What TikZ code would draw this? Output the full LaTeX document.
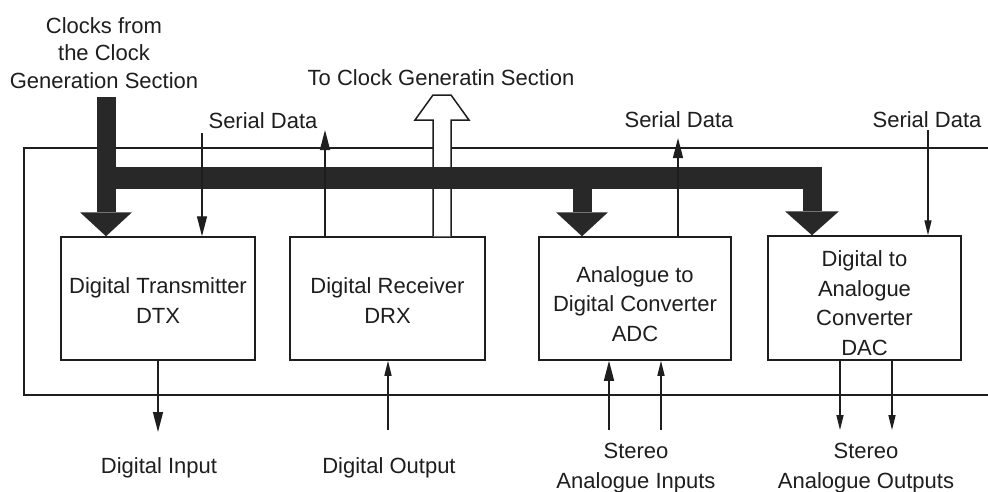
\documentclass[tikz,border=0pt]{standalone}
\usepackage{fontspec}
\setmainfont{Liberation Sans}
\usetikzlibrary{arrows.meta,calc}
\definecolor{ink}{RGB}{30,30,30}
\definecolor{busgray}{RGB}{40,40,40}

\begin{document}
\begin{tikzpicture}[x=1pt,y=-1pt,
  every node/.style={font=\fontsize{22}{29.5}\selectfont, text=ink},
  block/.style={draw=ink, line width=1.5pt, rectangle, align=center, inner sep=0pt},
  sig/.style={draw=ink, line width=1.4pt, -{Triangle[length=20pt,width=10pt]}},
  sigsmall/.style={draw=ink, line width=1.4pt, -{Triangle[length=15pt,width=7pt]}},
  frame/.style={draw=ink, line width=1.5pt},
  shaft/.style={draw=busgray, line width=19pt},
  busline/.style={draw=busgray, line width=22pt},
  bighead/.style={fill=busgray},
  hollow/.style={draw=ink, fill=white, line width=1.5pt, line join=miter},
  lbl/.style={align=center, anchor=base}]

\useasboundingbox (0,0) rectangle (988,491);
\fill[white] (0,0) rectangle (988,491);

% enclosing frame (open on the right)
\draw[frame] (988,148) -- (24,148) -- (24,395) -- (988,395);

% functional blocks
\node[block, minimum width=194pt, minimum height=123pt] (dtx) at (158,298.5) {\rule{0pt}{20pt}Digital Transmitter\\DTX};
\node[block, minimum width=195pt, minimum height=123pt] (drx) at (387.5,298.5) {\rule{0pt}{20pt}Digital Receiver\\DRX};
\node[block, minimum width=192pt, minimum height=123pt] (adc) at (635,298.5) {\rule{0pt}{27pt}Analogue to\\Digital Converter\\ADC};
\node[block, minimum width=193pt, minimum height=124pt] (dac) at (864.5,298) {\rule{0pt}{26pt}Digital to\\Analogue\\Converter\\DAC};

% hollow arrow towards the clock generation section
\coordinate (cgout) at (442,95);
\draw[hollow] ($(drx.north -| cgout)+(-9,0)$) -- ($(cgout)+(-9,25)$) -- ($(cgout)+(-27,25)$)
  -- ($(cgout)+(-9,0)$) -- ($(cgout)+(9,0)$) -- ($(cgout)+(27,25)$) -- ($(cgout)+(9,25)$)
  -- ($(drx.north -| cgout)+(9,0)$);

% clock distribution bus
\coordinate (clkin) at (106,97);
\coordinate (busL) at (106,178);
\coordinate (busA) at (582,178);
\coordinate (busR) at (812,178);
\draw[shaft] (clkin) -- ($(dtx.north -| clkin)+(0,-24)$);
\fill[bighead] (dtx.north -| clkin) -- ++(-26,-24) -- ++(52,0) -- cycle;
\draw[busline] (busL) -- ($(busR)+(9.5,0)$);
\draw[shaft] ($(busA)+(0,-11)$) -- ($(adc.north -| busA)+(0,-24)$);
\fill[bighead] (adc.north -| busA) -- ++(-26,-24) -- ++(52,0) -- cycle;
\draw[shaft] ($(busR)+(0,-11)$) -- ($(dac.north -| busR)+(0,-24)$);
\fill[bighead] (dac.north -| busR) -- ++(-27,-24) -- ++(54,0) -- cycle;

% serial data lines
\coordinate (sd1) at (202,133);
\coordinate (sd2) at (325,130);
\coordinate (sd3) at (678,138);
\coordinate (sd4) at (928,130);
\draw[sig] (sd1) -- (sd1 |- dtx.north);
\draw[sig] (sd2 |- drx.north) -- (sd2);
\draw[sig] (sd3 |- adc.north) -- (sd3);
\draw[sigsmall] (sd4) -- (sd4 |- dac.north);

% external inputs and outputs
\coordinate (din) at (158,432);
\coordinate (dout) at (388,430);
\coordinate (ain1) at (609,430);
\coordinate (ain2) at (661,430);
\coordinate (aout1) at (840,430);
\coordinate (aout2) at (892,430);
\draw[sig] (dtx.south -| din) -- (din);
\draw[sigsmall] (dout) -- (dout |- drx.south);
\draw[sig] (ain1) -- (ain1 |- adc.south);
\draw[sigsmall] (ain2) -- (ain2 |- adc.south);
\draw[sigsmall] (aout1 |- dac.south) -- (aout1);
\draw[sigsmall] (aout2 |- dac.south) -- (aout2);

% labels (multi-line labels are anchored on their last baseline)
\node[lbl, font=\fontsize{22}{27.5}\selectfont] (clklbl) at (104,88) {Clocks from\\the Clock\\Generation Section};
\node[lbl] (cglbl) at (441,85) {To Clock Generatin Section};
\node[lbl] (sdl1) at (263,128) {Serial Data};
\node[lbl] (sdl3) at (679,127) {Serial Data};
\node[lbl] (sdl4) at (927,127) {Serial Data};
\node[lbl] (dinl) at (159,473) {Digital Input};
\node[lbl] (doutl) at (389,473) {Digital Output};
\node[lbl, font=\fontsize{22}{30}\selectfont] (ainl) at (636,488) {Stereo\\Analogue Inputs};
\node[lbl, font=\fontsize{22}{30}\selectfont] (aoutl) at (866,488) {Stereo\\Analogue Outputs};
\end{tikzpicture}
\end{document}
